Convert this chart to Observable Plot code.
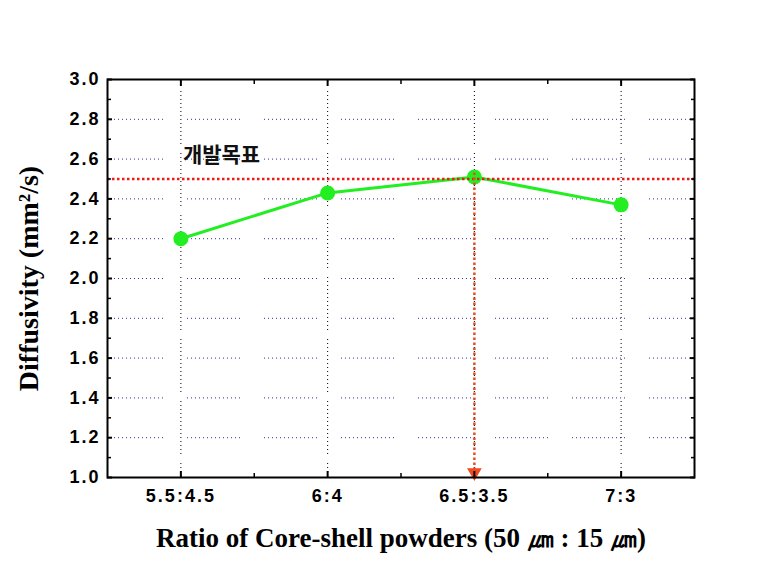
<!DOCTYPE html>
<html>
<head>
<meta charset="utf-8">
<script src="https://cdn.jsdelivr.net/npm/d3@7"></script>
<script src="https://cdn.jsdelivr.net/npm/@observablehq/plot@0.6"></script>
<style>
  html, body { margin: 0; padding: 0; background: #fff; }
  #chart svg { display: block; }
  #chart g[aria-label="y-axis tick label"], #chart g[aria-label="x-axis tick label"] { letter-spacing: 2px; }
</style>
</head>
<body>
<div id="chart"></div>
<script>
const categories = ["5.5:4.5", "6:4", "6.5:3.5", "7:3"];
const diffusivity = [2.20, 2.43, 2.51, 2.37];
const target = 2.5;
const targetLabel = "개발목표";
const targetCategory = "6.5:3.5";
const yDomain = [1.0, 3.0];
const yMajorTicks = [1.0, 1.2, 1.4, 1.6, 1.8, 2.0, 2.2, 2.4, 2.6, 2.8, 3.0];
const yMinorTicks = [1.1, 1.3, 1.5, 1.7, 1.9, 2.1, 2.3, 2.5, 2.7, 2.9];
const yGrid = [1.2, 1.4, 1.6, 1.8, 2.0, 2.2, 2.4, 2.6, 2.8];
const xLabel = "Ratio of Core-shell powders (50 ㎛ : 15 ㎛)";
const yLabel = "Diffusivity (mm²/s)";

const idx = categories.map((c, i) => i);
const xMinorTicks = idx.slice(1).map(i => i - 0.5);
const rows = categories.map((c, i) => ({i, c, v: diffusivity[i]}));
const targetIdx = categories.indexOf(targetCategory);
const fmtX = i => categories[i] ?? "";

// dotted dash patterns (groups of dots separated by short gaps)
const hDash = Array(13).fill("1,3").join(",") + ",1,24";
const vDash = Array(13).fill("1,3").join(",") + ",1,9";

const tickFont = {fontSize: 18, fontWeight: "bold", fontFamily: "'Liberation Sans', Arial, sans-serif"};
const titleFont = {fontWeight: "bold", fontFamily: "'Liberation Serif', 'Times New Roman', serif", fill: "#000"};

const chart = Plot.plot({
  width: 778,
  height: 584,
  marginLeft: 107,
  marginRight: 84,
  marginTop: 79,
  marginBottom: 107,
  style: {background: "#fff", overflow: "visible"},
  x: {type: "linear", domain: [-0.5, categories.length - 0.5]},
  y: {domain: yDomain},
  marks: [
    Plot.ruleY(yGrid, {stroke: "#30309a", strokeWidth: 1, strokeDasharray: hDash, strokeDashoffset: 74}),
    Plot.ruleX(idx, {stroke: "#000", strokeWidth: 1, strokeDasharray: vDash, strokeDashoffset: 50}),
    Plot.line(rows, {x: "i", y: "v", stroke: "#22ee22", strokeWidth: 3}),
    Plot.dot(rows, {x: "i", y: "v", r: 7.5, fill: "#22ee22"}),
    Plot.ruleY([target], {stroke: "#ee1a1a", strokeWidth: 2.5, strokeDasharray: "2.5,2.5"}),
    Plot.ruleX([targetIdx], {y1: target, y2: yDomain[0], dy: -6, stroke: "#e0502c", strokeWidth: 2.5, strokeDasharray: "2.5,2.5"}),
    Plot.dot([targetIdx], {x: d => d, y: yDomain[0], symbol: "triangle", rotate: 180, r: 4.5, dy: -5, fill: "#f04a22", stroke: "#f04a22"}),
    Plot.text([targetLabel], {x: 0, y: target, dx: 2, dy: -24, textAnchor: "start", fontSize: 21, fontWeight: "bold", fontFamily: "'Noto Sans CJK KR', sans-serif", fill: "#111"}),
    // axes: labels
    Plot.axisY({anchor: "left", ticks: yMajorTicks, tickSize: 0, tickPadding: 7, tickFormat: d3.format(".1f"), label: null, ...tickFont}),
    Plot.axisX({anchor: "bottom", ticks: idx, tickSize: 0, tickPadding: 12, tickFormat: fmtX, label: null, ...tickFont}),
    // inward ticks
    Plot.axisY({anchor: "left", ticks: yMajorTicks, tickSize: -5, strokeWidth: 2, tickFormat: () => "", label: null}),
    Plot.axisY({anchor: "left", ticks: yMinorTicks, tickSize: -4, strokeWidth: 1.5, tickFormat: () => "", label: null}),
    Plot.axisY({anchor: "right", ticks: yMajorTicks, tickSize: -5, strokeWidth: 2, tickFormat: () => "", label: null}),
    Plot.axisY({anchor: "right", ticks: yMinorTicks, tickSize: -4, strokeWidth: 1.5, tickFormat: () => "", label: null}),
    Plot.axisX({anchor: "bottom", ticks: idx, tickSize: -6, strokeWidth: 2, tickFormat: () => "", label: null}),
    Plot.axisX({anchor: "bottom", ticks: xMinorTicks, tickSize: -4, strokeWidth: 1.5, tickFormat: () => "", label: null}),
    Plot.axisX({anchor: "top", ticks: idx, tickSize: -6, strokeWidth: 2, tickFormat: () => "", label: null}),
    Plot.axisX({anchor: "top", ticks: xMinorTicks, tickSize: -4, strokeWidth: 1.5, tickFormat: () => "", label: null}),
    Plot.frame({stroke: "#000", strokeWidth: 2}),
    // axis titles
    Plot.text([yLabel], {frameAnchor: "left", textAnchor: "middle", lineAnchor: "middle", dx: -78, rotate: -90, fontSize: 28, ...titleFont}),
    Plot.text([xLabel], {frameAnchor: "bottom", textAnchor: "middle", lineAnchor: "middle", dy: 61, fontSize: 27, ...titleFont})
  ]
});
document.getElementById("chart").appendChild(chart);
</script>
</body>
</html>
